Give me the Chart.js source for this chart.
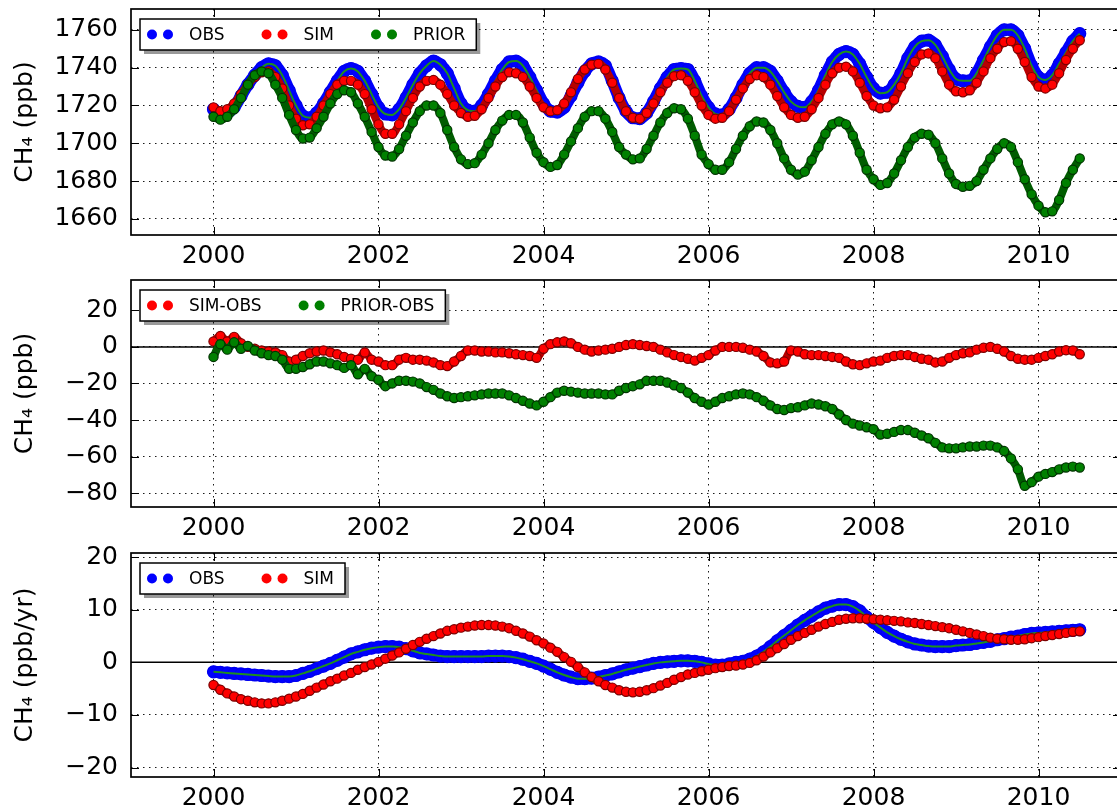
<!DOCTYPE html>
<html>
<head>
<meta charset="utf-8">
<script src="https://cdn.jsdelivr.net/npm/chart.js@4.4.1/dist/chart.umd.min.js"></script>
<style>
  html, body { margin: 0; padding: 0; background: #fff; width: 1117px; height: 812px; overflow: hidden; }
  canvas { position: absolute; left: 0; }
</style>
</head>
<body>
<canvas id="ch4" width="1121" height="270" style="top:0px"></canvas>
<canvas id="diff" width="1121" height="275" style="top:270px"></canvas>
<canvas id="rate" width="1121" height="267" style="top:545px"></canvas>
<script>
// Monthly samples starting January 2000
const startYear = 2000;
const samplesPerYear = 12;

const yearTicks = [2000, 2002, 2004, 2006, 2008, 2010];
const ch4Ticks = [1660, 1680, 1700, 1720, 1740, 1760];
const diffTicks = [-80, -60, -40, -20, 0, 20];
const rateTicks = [-20, -10, 0, 10, 20];

// CH4 mole fraction (ppb)
const obs = [
  1718, 1715.5, 1716, 1719, 1725, 1731, 1736, 1740, 1742, 1741, 1736, 1728,
  1720, 1714.5, 1713.5, 1716, 1721, 1727, 1733, 1738, 1739.5, 1738, 1733, 1726,
  1719, 1715.5, 1715, 1718, 1724, 1731, 1737, 1741, 1743.5, 1741.5, 1737, 1729,
  1721, 1717.5, 1717, 1720, 1726, 1733, 1739, 1743, 1743.5, 1741, 1735, 1728,
  1721, 1717, 1716.5, 1719, 1725, 1732, 1738, 1742, 1743, 1741, 1733, 1724,
  1717, 1713.5, 1713, 1716, 1722, 1729, 1735, 1739, 1739.5, 1739, 1733, 1725,
  1719, 1715.5, 1715, 1718, 1724, 1731, 1737, 1740, 1740, 1738, 1733, 1727,
  1722, 1719.5, 1719, 1722, 1728, 1736, 1743, 1747, 1748.5, 1747, 1742, 1735,
  1729, 1726.5, 1727, 1731, 1737, 1745, 1751, 1754, 1754.5, 1752, 1746, 1739,
  1734, 1733, 1733, 1737, 1744, 1751, 1757, 1760, 1760, 1757, 1750, 1741,
  1735, 1733.5, 1736, 1742, 1748, 1754, 1758
];
const sim = [
  1719, 1717, 1718, 1721, 1726, 1731, 1735, 1737.5, 1738, 1735, 1729, 1720,
  1713, 1709.5, 1710, 1714, 1720, 1726, 1731, 1733, 1733, 1731, 1726, 1718,
  1710, 1705, 1705, 1710, 1717, 1724, 1730, 1733, 1733.5, 1731, 1726, 1720,
  1716, 1714, 1714.5, 1718, 1724, 1730, 1735, 1737.5, 1737, 1735, 1730, 1724,
  1719, 1717, 1717.5, 1721, 1727, 1734, 1739, 1741.5, 1742, 1739, 1732, 1724,
  1717, 1713.5, 1713, 1716, 1721, 1727, 1732, 1735.5, 1736, 1733, 1727, 1720,
  1715, 1713, 1713.5, 1717, 1723, 1729, 1734, 1736, 1735, 1731, 1725, 1719,
  1715, 1713.5, 1714, 1718, 1724, 1731, 1737, 1740, 1740.5, 1738, 1732, 1725,
  1720, 1718.5, 1719, 1723, 1730, 1737, 1743, 1747, 1747.5, 1745, 1738, 1731,
  1727.5, 1727, 1728, 1732, 1738, 1745, 1750, 1753.5, 1754, 1750, 1743, 1735,
  1730, 1729, 1731, 1737, 1744, 1750, 1754.5
];
const prior = [
  1714, 1712.5, 1714, 1718, 1724, 1731, 1736, 1738, 1737, 1731, 1724, 1715,
  1707, 1702.5, 1703, 1708, 1714, 1721, 1726, 1728, 1727, 1721, 1714, 1706,
  1698, 1693.5, 1693, 1697, 1704, 1711, 1717, 1720, 1720, 1716, 1707, 1698,
  1691.5, 1689, 1689.5, 1694, 1700, 1707, 1712, 1715, 1715, 1711, 1703, 1695,
  1690, 1687.5, 1688.5, 1694, 1701, 1708, 1714, 1717, 1717, 1713, 1706, 1698,
  1694, 1691.5, 1692, 1697, 1704, 1711, 1716, 1718.5, 1718, 1713, 1704, 1694,
  1689, 1686, 1686, 1690, 1697, 1704, 1709, 1711.5, 1711, 1707, 1700, 1692,
  1686, 1683.5, 1685, 1691, 1698, 1705, 1710, 1711.5, 1710, 1704, 1695, 1686,
  1681, 1678, 1679, 1684, 1691, 1698, 1703, 1705, 1704.5, 1700, 1692, 1684,
  1678.5, 1677, 1677.5, 1680, 1686, 1692, 1697, 1700, 1698, 1690, 1681, 1673,
  1667, 1663.5, 1664, 1670, 1679, 1686, 1692
];

// Model minus observation (ppb)
const simMinusObs = [
  3, 6, 3, 5.5, 2, 0, -1, -2, -2.5, -3, -4.5, -8,
  -7, -5, -3.5, -2.5, -2, -3, -4, -5.5, -6.5, -7, -3, -7,
  -8, -10, -10, -7, -6, -7, -7, -7.5, -8.5, -10, -10.5, -8,
  -5, -2, -2, -2.5, -2.5, -3, -3, -3.5, -4, -4.5, -5, -6,
  -1, 1.5, 2.5, 3, 2, 0, -1.5, -2.5, -2, -1.5, -1, 0,
  1, 1.5, 1, 0.5, 0, -1.5, -3, -4.5, -5.5, -6.5, -7.5, -6,
  -4.5, -2, 0, 0, 0, -0.5, -1.5, -2.5, -5, -8.5, -9, -8,
  -2, -2.5, -4, -4.5, -4.5, -5, -5.5, -6, -8, -9.5, -10, -9,
  -8, -7.5, -6, -5, -4.5, -4.5, -5.5, -6.5, -7, -8.5, -8, -6,
  -4.5, -3.5, -3, -1.5, -0.5, 0, -1, -2.5, -5, -6.5, -7, -7,
  -6, -5, -4, -2.5, -1.8, -2, -4
];
const priorMinusObs = [
  -5.5, 1.5, -1.5, 2.5, -1, 0.5, -2, -3.5, -4.5, -5, -7, -12,
  -12, -11, -9.5, -8, -8, -9, -10, -11.5, -10, -15, -12, -16,
  -18, -21.5, -20, -18.5, -18.5, -19, -20, -22, -23.5, -25.5, -27, -28,
  -27.5, -27, -26.5, -26, -25.5, -25.5, -25.5, -26.5, -28, -29.5, -31, -32,
  -30, -27.5, -25, -24, -24.5, -25, -25.5, -25.5, -25.5, -26, -26, -24,
  -22.5, -21.5, -20.5, -18.5, -18.5, -18.5, -19.5, -21, -22.5, -25, -28, -30,
  -31.5, -30, -28, -27, -26, -25.5, -26, -27.5, -29.5, -32, -34, -34.5,
  -33.5, -33, -32, -31, -31.5, -32.5, -34, -37, -40, -42, -43, -44,
  -45, -48, -47.5, -46.5, -45.5, -45.5, -47, -48.5, -50, -52.5, -55, -55.5,
  -55.5, -55, -54.5, -54.5, -54, -54, -55, -57, -61, -67, -76, -74,
  -71, -69.5, -68.5, -67, -66, -65.5, -66
];

// Growth rate (ppb/yr)
const obsGrowth = [
  -1.8, -1.9, -2.0, -2.1, -2.2, -2.3, -2.4, -2.5, -2.6, -2.7, -2.7, -2.7,
  -2.5, -2.1, -1.7, -1.2, -0.7, -0.2, 0.4, 1.0, 1.6, 2.0, 2.4, 2.7,
  2.9, 3.0, 3.0, 2.9, 2.6, 2.2, 1.8, 1.6, 1.4, 1.2, 1.1, 1.1,
  1.1, 1.1, 1.1, 1.1, 1.2, 1.2, 1.2, 1.1, 0.9, 0.6, 0.2, -0.2,
  -0.7, -1.3, -1.9, -2.4, -2.8, -3.1, -3.1, -3.0, -2.8, -2.5, -2.2, -1.8,
  -1.4, -1.1, -0.8, -0.5, -0.2, 0.0, 0.1, 0.2, 0.3, 0.3, 0.2, 0.0,
  -0.3, -0.5, -0.5, -0.3, 0.0, 0.2, 0.6, 1.2, 2.0, 3.0, 4.1, 5.1,
  6.1, 7.1, 8.0, 8.8, 9.6, 10.3, 10.7, 11.0, 11.0, 10.6, 9.8, 8.6,
  7.6, 6.6, 5.7, 5.0, 4.4, 3.9, 3.5, 3.3, 3.1, 3.0, 3.0, 3.0,
  3.2, 3.3, 3.4, 3.6, 3.8, 4.0, 4.3, 4.5, 4.8, 5.0, 5.3, 5.5,
  5.6, 5.7, 5.8, 5.9, 6.0, 6.1, 6.2
];
const simGrowth = [
  -4.3, -5.2, -5.9, -6.5, -7.0, -7.3, -7.6, -7.8, -7.8, -7.6, -7.3, -6.9,
  -6.5, -6.0, -5.4, -4.8, -4.2, -3.6, -3.1, -2.5, -2.0, -1.4, -0.9, -0.4,
  0.1, 0.7, 1.3, 1.9, 2.6, 3.3, 3.9, 4.5, 5.0, 5.5, 6.0, 6.3,
  6.6, 6.8, 7.0, 7.1, 7.1, 7.0, 6.8, 6.5, 6.0, 5.5, 4.9, 4.2,
  3.6, 2.8, 2.0, 1.0, 0.1, -0.9, -1.9, -2.8, -3.6, -4.3, -4.8, -5.3,
  -5.6, -5.7, -5.6, -5.3, -4.9, -4.4, -3.9, -3.3, -2.8, -2.3, -2.0, -1.7,
  -1.4, -1.1, -0.9, -0.7, -0.6, -0.4, -0.1, 0.4, 1.1, 1.9, 2.7, 3.5,
  4.3, 5.0, 5.6, 6.2, 6.8, 7.3, 7.7, 8.1, 8.3, 8.4, 8.4, 8.3,
  8.2, 8.1, 8.0, 7.9, 7.8, 7.6, 7.5, 7.3, 7.1, 6.9, 6.7, 6.5,
  6.2, 5.9, 5.6, 5.3, 5.0, 4.7, 4.5, 4.4, 4.3, 4.3, 4.4, 4.6,
  4.8, 5.0, 5.2, 5.4, 5.6, 5.8, 5.9
];

const FONT = '"DejaVu Sans", "Liberation Sans", sans-serif';
const sampleTime = i => startYear + i / samplesPerYear;
const toPoints = arr => arr.map((v, i) => ({ x: sampleTime(i), y: v }));
const fmtTick = v => (v < 0 ? '\u2212' + Math.abs(v) : String(v));

const STYLE = {
  obs:   { color: '#0000ff', edge: '#0000ee', line: '#0000ff', width: 12, radius: 6 },
  sim:   { color: '#ff0000', edge: '#7a0000', line: '#b80000', width: 8,  radius: 4.6 },
  prior: { color: '#008000', edge: '#003400', line: '#005c00', width: 8,  radius: 4.6 }
};

function bandDataset(label, values, s, order) {
  return {
    label, data: toPoints(values), order,
    borderColor: s.line, borderWidth: s.width,
    borderJoinStyle: 'round', borderCapStyle: 'round',
    cubicInterpolationMode: 'monotone',
    pointRadius: s.radius, pointBackgroundColor: s.color,
    pointBorderColor: s.edge, pointBorderWidth: 1.2,
    legendColor: s.color
  };
}
function traceDataset(values, order) {
  return {
    data: toPoints(values), order,
    borderColor: '#1e8f1e', borderWidth: 2,
    cubicInterpolationMode: 'monotone', pointRadius: 0
  };
}

function drawLegend(chart) {
  const entries = chart.data.datasets.filter(d => d.label);
  const { ctx, chartArea: a } = chart;
  const x0 = a.left + 9, y0 = a.top + 10, h = 31;
  ctx.save();
  ctx.font = '17px ' + FONT;
  const items = [];
  let x = x0;
  entries.forEach(d => {
    const tw = ctx.measureText(d.label).width;
    items.push({ d, x });
    x += 49 + tw + 30;
  });
  const w = x - 30 + 11 - x0;
  ctx.fillStyle = 'rgba(0,0,0,0.4)';
  ctx.fillRect(x0 + 4, y0 + 4, w, h);
  ctx.fillStyle = '#fff';
  ctx.fillRect(x0, y0, w, h);
  ctx.lineWidth = 1.5;
  ctx.strokeStyle = '#000';
  ctx.strokeRect(x0, y0, w, h);
  const cy = y0 + h / 2;
  items.forEach(({ d, x }) => {
    ctx.fillStyle = d.legendColor;
    [12, 28].forEach(off => {
      ctx.beginPath();
      ctx.arc(x + off, cy, 5, 0, Math.PI * 2);
      ctx.fill();
    });
    ctx.fillStyle = '#000';
    ctx.textBaseline = 'middle';
    ctx.textAlign = 'left';
    ctx.fillText(d.label, x + 49, cy + 1);
  });
  ctx.restore();
}

// Frame, inward tick marks, zero reference line and legend box
const panelDecor = {
  id: 'panelDecor',
  beforeDatasetsDraw(chart, args, opts) {
    if (!opts.zeroLine) return;
    const { ctx, chartArea: a, scales: { y } } = chart;
    const py = y.getPixelForValue(0);
    ctx.save();
    ctx.strokeStyle = '#000';
    ctx.lineWidth = 1.5;
    ctx.beginPath();
    ctx.moveTo(a.left, py);
    ctx.lineTo(a.right, py);
    ctx.stroke();
    ctx.restore();
  },
  afterDatasetsDraw(chart) {
    const { ctx, chartArea: a, scales: { x, y } } = chart;
    ctx.save();
    ctx.strokeStyle = '#000';
    ctx.lineWidth = 1;
    ctx.beginPath();
    x.ticks.forEach(t => {
      const px = Math.round(x.getPixelForValue(t.value)) + 0.5;
      ctx.moveTo(px, a.bottom); ctx.lineTo(px, a.bottom - 8);
      ctx.moveTo(px, a.top); ctx.lineTo(px, a.top + 8);
    });
    y.ticks.forEach(t => {
      const py = Math.round(y.getPixelForValue(t.value)) + 0.5;
      ctx.moveTo(a.left, py); ctx.lineTo(a.left + 8, py);
      ctx.moveTo(a.right, py); ctx.lineTo(a.right - 8, py);
    });
    ctx.stroke();
    ctx.lineWidth = 1.7;
    ctx.strokeRect(a.left, a.top, a.right - a.left, a.bottom - a.top);
    ctx.restore();
  },
  afterDraw(chart) { drawLegend(chart); }
};

function makePanel(id, cfg) {
  const tickFont = { family: FONT, size: 25 };
  new Chart(document.getElementById(id), {
    type: 'line',
    data: { datasets: cfg.datasets },
    plugins: [panelDecor],
    options: {
      responsive: false,
      animation: false,
      devicePixelRatio: 1,
      events: [],
      layout: { autoPadding: false, padding: { top: cfg.padTop, left: 0, right: 0, bottom: 0 } },
      plugins: {
        legend: { display: false },
        tooltip: { enabled: false },
        panelDecor: { zeroLine: cfg.zeroLine }
      },
      scales: {
        x: {
          type: 'linear', min: 1999, max: 2011,
          afterBuildTicks: s => { s.ticks = yearTicks.map(v => ({ value: v })); },
          afterFit: s => {
            s.height = cfg.xAxisHeight;
            s.paddingLeft = s.paddingRight = s.paddingTop = s.paddingBottom = 0;
          },
          ticks: { callback: v => String(v), font: tickFont, color: '#000', padding: 6, maxRotation: 0, autoSkip: false },
          grid: { color: '#1a1a1a', lineWidth: 1, drawTicks: false },
          border: { display: false, dash: [1.5, 4.5] }
        },
        y: {
          type: 'linear', min: cfg.yMin, max: cfg.yMax,
          afterBuildTicks: s => { s.ticks = cfg.yTicks.map(v => ({ value: v })); },
          afterFit: s => {
            s.width = 131;
            s.paddingLeft = s.paddingRight = s.paddingTop = s.paddingBottom = 0;
          },
          ticks: { callback: fmtTick, font: tickFont, color: '#000', padding: 13, autoSkip: false },
          title: { display: true, text: cfg.yTitle, font: { family: FONT, size: 25 }, color: '#000', padding: { top: 10, bottom: 0 } },
          grid: { color: '#1a1a1a', lineWidth: 1, drawTicks: false },
          border: { display: false, dash: [1.5, 4.5] }
        }
      }
    }
  });
}

makePanel('ch4', {
  datasets: [
    bandDataset('OBS', obs, STYLE.obs, 4),
    traceDataset(obs, 3),
    bandDataset('SIM', sim, STYLE.sim, 2),
    bandDataset('PRIOR', prior, STYLE.prior, 1)
  ],
  yMin: 1651.5, yMax: 1771, yTicks: ch4Ticks, yTitle: 'CH\u2084 (ppb)',
  padTop: 9, xAxisHeight: 35, zeroLine: false
});

makePanel('diff', {
  datasets: [
    bandDataset('SIM-OBS', simMinusObs, STYLE.sim, 2),
    bandDataset('PRIOR-OBS', priorMinusObs, STYLE.prior, 1)
  ],
  yMin: -87.6, yMax: 36.6, yTicks: diffTicks, yTitle: 'CH\u2084 (ppb)',
  padTop: 10, xAxisHeight: 38, zeroLine: true
});

makePanel('rate', {
  datasets: [
    bandDataset('OBS', obsGrowth, STYLE.obs, 3),
    traceDataset(obsGrowth, 2),
    bandDataset('SIM', simGrowth, STYLE.sim, 1)
  ],
  yMin: -21.8, yMax: 20.8, yTicks: rateTicks, yTitle: 'CH\u2084 (ppb/yr)',
  padTop: 8, xAxisHeight: 35, zeroLine: true
});
</script>
</body>
</html>
